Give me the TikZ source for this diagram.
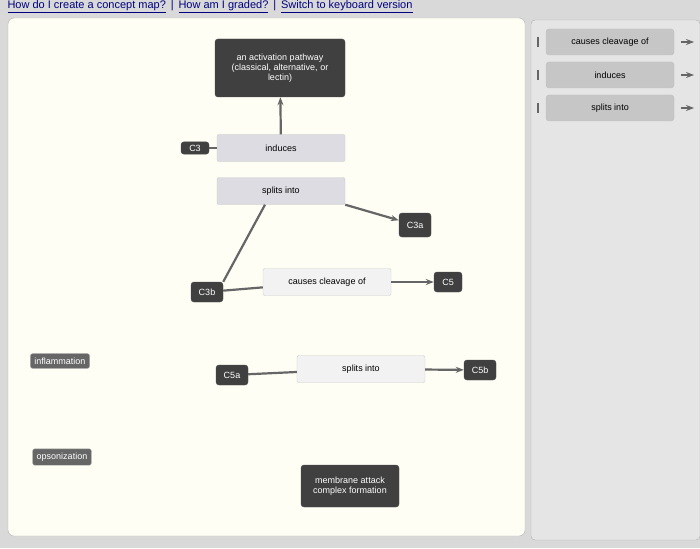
\documentclass[tikz,border=0pt]{standalone}
\usepackage{fontspec}
\setmainfont{Liberation Sans}
\usetikzlibrary{arrows.meta}
\begin{document}
\begin{tikzpicture}[x=1pt,y=-1pt,
 dark/.style={draw=gray!60!black,fill=black!75,text=white,rounded corners=3pt,font=\fontsize{9}{10}\selectfont,align=center,inner sep=3pt},
 gr/.style={draw=gray!70,fill=black!60,text=white,rounded corners=2pt,font=\fontsize{9}{10}\selectfont,inner sep=4pt},
 lnk/.style={draw=gray!40,fill=blue!10!gray!25,rounded corners=2pt,font=\fontsize{9}{10}\selectfont,minimum height=27pt,minimum width=128pt},
 lnkw/.style={lnk,fill=blue!5!gray!10},
 side/.style={draw=gray!50,fill=gray!45,rounded corners=3pt,font=\fontsize{9}{10}\selectfont,minimum height=26pt,minimum width=128pt},
 con/.style={draw=black!60,line width=2.2pt},
 arr/.style={con,-{Stealth[length=8pt,width=6pt]}}]
\useasboundingbox (0,0) rectangle (700,548);
\fill[gray!30] (0,0) rectangle (700,548);
\node[anchor=west,text=blue!50!black,font=\fontsize{11}{12}\selectfont] (hdr) at (4,7) {\underline{How do I create a concept map?} \,|\, \underline{How am I graded?} \,|\, \underline{Switch to keyboard version}};
\draw[gray!60,fill=yellow!4!white,rounded corners=6pt] (8,18) rectangle (525,536);
\draw[gray!60,fill=gray!20,rounded corners=4pt] (531,20) rectangle (700,540);
\foreach \t/\y [count=\i] in {causes cleavage of/42,induces/75,splits into/108}{
 \node[side] (s\i) at (610,\y) {\t};
 \draw[con] (538,\y-5) -- (538,\y+5);
 \draw[arr] (681,\y) -- (694,\y);
}
\node[dark,minimum width=130pt,minimum height=58pt] (act) at (280,68) {an activation pathway\\(classical, alternative, or\\lectin)};
\node[lnk] (ind) at (281,148) {induces};
\node[dark,minimum width=28pt] (c3) at (195,148) {C3};
\node[lnk] (spl) at (281,191) {splits into};
\node[dark,minimum width=32pt,minimum height=24pt] (c3a) at (415,225) {C3a};
\node[dark,minimum width=32pt,minimum height=20pt] (c3b) at (207,292) {C3b};
\node[lnkw] (cc) at (327,282) {causes cleavage of};
\node[dark,minimum width=28pt,minimum height=20pt] (c5) at (448,282) {C5};
\node[dark,minimum width=32pt,minimum height=20pt] (c5a) at (232,375) {C5a};
\node[lnkw] (spl2) at (361,369) {splits into};
\node[dark,minimum width=32pt,minimum height=20pt] (c5b) at (480,370) {C5b};
\node[gr] (inf) at (60,361) {inflammation};
\node[gr] (ops) at (62,457) {opsonization};
\node[dark,minimum width=98pt,minimum height=42pt] (mac) at (350,486) {membrane attack\\complex formation};
\draw[arr] (ind) -- (act);
\draw[con] (c3) -- (ind);
\draw[con] (c3b.north east) -- (spl.south west -| 265,0);
\draw[arr] (spl.south east) -- (c3a);
\draw[con] (c3b) -- (cc);
\draw[arr] (cc) -- (c5);
\draw[con] (c5a) -- (spl2);
\draw[arr] (spl2) -- (c5b);
\end{tikzpicture}
\end{document}
